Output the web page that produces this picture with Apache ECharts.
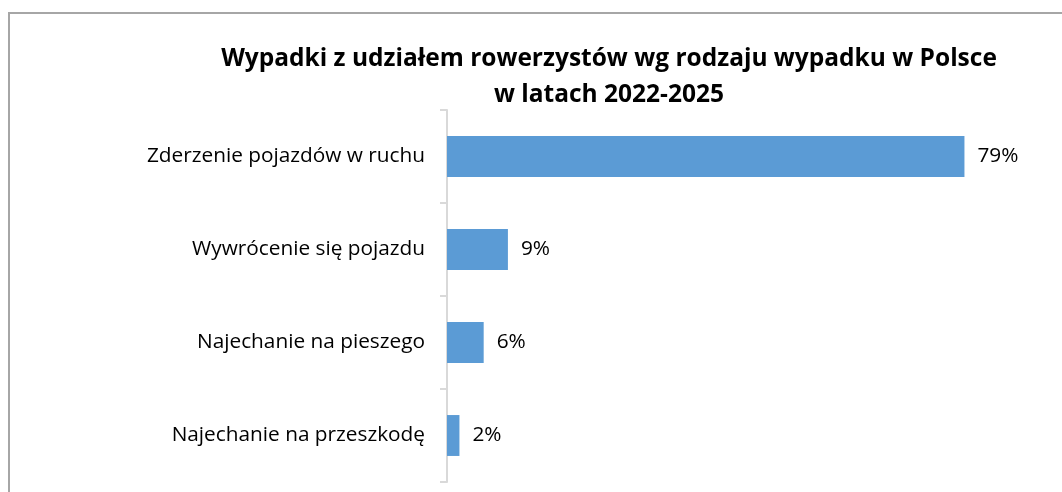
<!DOCTYPE html>
<html>
<head>
<meta charset="utf-8">
<script src="https://cdn.jsdelivr.net/npm/echarts@6/dist/echarts.min.js"></script>
<style>
  html, body { margin: 0; padding: 0; background: #fff; }
  #chart { width: 1062px; height: 492px; }
</style>
</head>
<body>
<div id="chart"></div>
<script>
// rodzaje wypadków (od góry)
const categories = [
  "Zderzenie pojazdów w ruchu",
  "Wywrócenie się pojazdu",
  "Najechanie na pieszego",
  "Najechanie na przeszkodę"
];
const shares = [79.0, 9.3, 5.6, 1.9];

const titleText = "Wypadki z udziałem rowerzystów wg rodzaju wypadku w Polsce\nw latach 2022-2025";

let myChart = echarts.init(document.getElementById("chart"));

let option = {
  backgroundColor: "#ffffff",
  animation: false,
  title: {
    text: titleText,
    left: 604,
    top: 36,
    textAlign: "center",
    textStyle: {
      fontFamily: "Open Sans",
      fontWeight: "bold",
      fontSize: 24.5,
      lineHeight: 36,
      color: "#000000",
    },
  },
  // ramka wykresu (ucięta z prawej i od dołu)
  graphic: [
    {
      type: "rect",
      shape: { x: 9, y: 13, width: 1100, height: 600 },
      style: { fill: "none", stroke: "#a6a6a6", lineWidth: 2 },
    },
  ],
  grid: {
    left: 447,
    right: 91,
    top: 110,
    bottom: 10,
    containLabel: false,
  },
  xAxis: {
    type: "value",
    min: 0,
    max: 80,
    show: false,
  },
  yAxis: {
    type: "category",
    data: categories,
    inverse: true,
    axisLine: {
      show: true,
      lineStyle: { color: "#d9d9d9", width: 2 },
    },
    axisTick: {
      show: true,
      length: 7,
      lineStyle: { color: "#d9d9d9", width: 2 },
    },
    axisLabel: {
      margin: 22,
      fontFamily: "Open Sans",
      fontSize: 20.8,
      color: "#000000",
    },
  },
  series: [
    {
      type: "bar",
      data: shares,
      barCategoryGap: "56%",
      itemStyle: { color: "#5b9bd5" },
      label: {
        show: true,
        position: "right",
        distance: 13,
        fontFamily: "Open Sans",
        fontSize: 20.8,
        color: "#000000",
        formatter: (p) => Math.round(p.value) + "%",
      },
    },
  ],
};

myChart.setOption(option);
</script>
</body>
</html>
